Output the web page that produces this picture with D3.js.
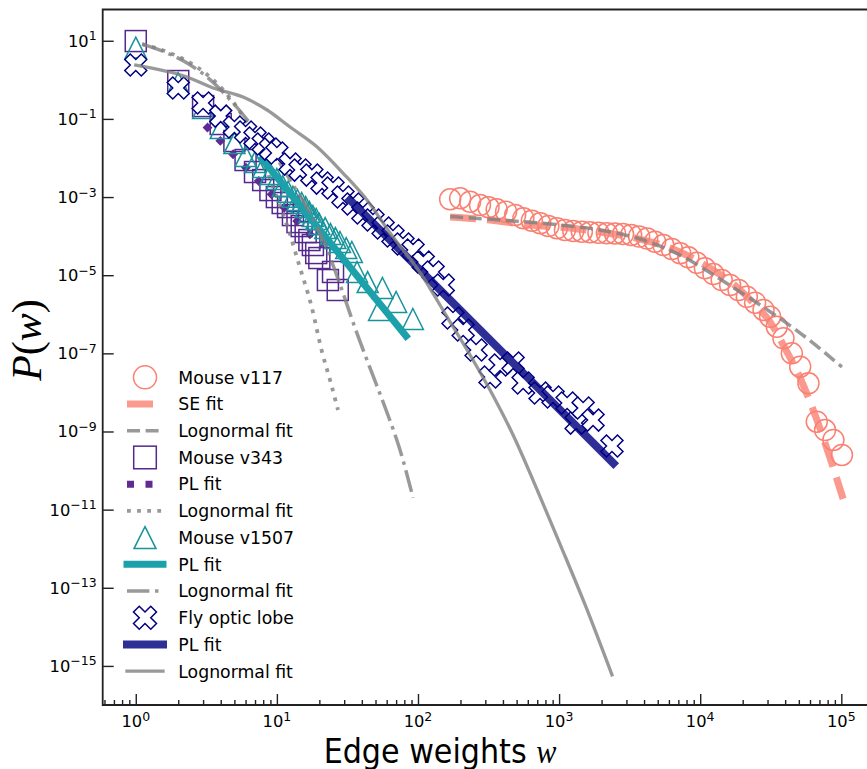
<!DOCTYPE html>
<html>
<head>
<meta charset="utf-8">
<script src="https://cdn.jsdelivr.net/npm/d3@7"></script>
<style>
  body { margin: 0; background: #fff; }
  text { font-family: "DejaVu Sans", sans-serif; fill: #000; }
</style>
</head>
<body>
<svg id="chart" width="867" height="769"></svg>
<script>
// ---- data ----
// Mouse v117 (circles) and its fits
const v117W = [169, 199, 234, 275, 316, 361, 421, 488, 558, 641, 735, 839, 964, 1100, 1260, 1450, 1660, 1900, 2180, 2490,
  2840, 3240, 3690, 4210, 4790, 5480, 6300, 7210, 8240, 9460, 10800, 12400, 14200, 16300, 18700, 21400, 24500, 28100, 31300, 34900,
  38900, 44600, 51100, 58500, 67000, 76700, 87900, 101000]
const v117P = [8.75e-4, 9.27e-4, 7.59e-4, 6.25e-4, 5.46e-4, 4.85e-4, 4.21e-4, 3.47e-4, 2.85e-4, 2.48e-4,
  2.13e-4, 1.81e-4, 1.58e-4, 1.43e-4, 1.35e-4, 1.30e-4, 1.25e-4, 1.22e-4, 1.18e-4, 1.17e-4,
  1.13e-4, 1.07e-4, 9.77e-5, 8.69e-5, 7.19e-5, 5.92e-5, 4.68e-5, 3.63e-5, 2.87e-5, 2.08e-5,
  1.50e-5, 1.07e-5, 7.53e-6, 5.61e-6, 4.18e-6, 2.81e-6, 1.98e-6, 1.29e-6, 8.67e-7, 4.81e-7,
  2.43e-7, 1.00e-7, 4.55e-8, 1.71e-8, 1.78e-9, 1.09e-9, 6.07e-10, 2.51e-10]
const seFitW = [169, 324, 623, 1200, 1950, 3750, 7190, 11700, 19200, 24500, 31300, 39800, 51100, 65200, 83200, 103000]
const seFitP = [3.08e-4, 2.58e-4, 1.92e-4, 1.61e-4, 1.27e-4, 8.43e-5, 3.92e-5, 1.52e-5, 4.18e-6, 1.73e-6,
  6.34e-7, 1.37e-7, 2.34e-8, 2.64e-9, 2.10e-10, 1.88e-11]
const ln117W = [169, 382, 863, 1950, 3750, 7190, 13800, 26600, 51100, 101000]
const ln117P = [3.17e-4, 2.58e-4, 2.04e-4, 1.43e-4, 8.43e-5, 3.28e-5, 7.98e-6, 1.73e-6, 3.31e-7, 4.47e-8]

// Mouse v343 (squares) and its fits
const v343W = [1, 2, 3, 4, 5, 6, 7, 8, 9, 10, 11, 12, 13, 14, 15, 16, 17, 18, 19, 20, 23, 25, 27]
const v343P = [9.82, 0.931, 0.213, 0.0740, 0.0272, 8.86e-3, 4.37e-3, 2.72e-3, 1.51e-3, 1.00e-3,
  7.03e-4, 5.55e-4, 3.46e-4, 2.29e-4, 1.81e-4, 1.27e-4, 7.94e-5, 5.92e-5, 3.69e-5, 2.75e-5,
  7.52e-6, 1.21e-5, 4.18e-6]
const pl343W = [3.1, 20.9]
const pl343P = [0.0697, 5.26e-5]
const ln343W = [1.11, 1.61, 2.24, 3.10, 4.30, 5.49, 6.78, 8.24, 9.70, 11.8, 14.6, 17.5, 20.9, 23.8, 27.1]
const ln343P = [8.24, 5.44, 3.21, 1.49, 0.487, 0.150, 0.0386, 6.59e-3, 1.34e-3, 1.92e-4, 1.53e-5, 1.73e-6, 1.08e-7, 2.08e-8, 3.55e-9]

// Mouse v1507 (triangles) and its fits
const v1507W = [1, 2, 3, 4, 5, 6, 7, 8, 9, 10, 11, 12, 13, 14, 15, 16, 17, 18, 19, 20,
  22, 24, 26, 28, 31, 34, 37, 44, 53, 56, 70, 92]
const v1507P = [6.70, 0.828, 0.190, 0.0583, 0.0241, 0.0112, 7.87e-3, 5.86e-3, 3.88e-3, 2.89e-3,
  1.91e-3, 1.37e-3, 1.02e-3, 8.39e-4, 7.03e-4, 5.55e-4, 4.14e-4, 3.27e-4, 2.74e-4, 2.04e-4,
  1.61e-4, 1.13e-4, 8.93e-5, 7.06e-5, 4.95e-5, 3.92e-5, 1.21e-5, 6.68e-6, 1.29e-6, 4.70e-6,
  2.06e-6, 7.55e-7]
const pl1507W = [7.85, 82.3]
const pl1507P = [9.4e-3, 2.78e-7]
const ln1507W = [1.11, 1.61, 2.31, 3.20, 4.89, 6.78, 9.40, 12.8, 17.2, 22.0, 28.1, 35.8, 45.7, 59.4, 74.6, 92.3]
const ln1507P = [8.24, 5.14, 2.69, 1.18, 0.255, 0.0619, 0.0134, 2.28e-3, 3.90e-4, 5.92e-5, 5.61e-6, 4.46e-7,
  4.22e-8, 3.55e-9, 3.36e-10, 2.0e-11]

// Fly optic lobe (crosses) and its fits
const flyW = [1, 2, 3, 4, 5, 6, 7, 8, 9, 10, 12.4, 14.6, 17.7, 20.9, 25.0, 29.4, 34.6, 40.7, 48.0, 56.6,
  66.5, 78.3, 92.3, 109, 128, 151, 177, 209, 258, 324, 382, 472, 556, 733, 906, 1140, 1320, 1480, 1740, 2370]
const flyP = [2.39, 0.617, 0.255, 0.118, 0.0619, 0.0461, 0.0324, 0.0228, 0.0169, 0.0134,
  6.98e-3, 4.90e-3, 3.65e-3, 2.28e-3, 1.70e-3, 1.00e-3, 6.62e-4, 3.90e-4, 2.58e-4, 1.61e-4,
  1.01e-4, 6.28e-5, 4.41e-5, 2.17e-5, 1.21e-5, 5.61e-6, 8.02e-7, 3.95e-7, 1.22e-7, 2.48e-8,
  5.02e-8, 5.65e-8, 1.74e-8, 9.64e-9, 7.62e-9, 5.35e-9, 1.64e-9, 3.98e-9, 1.96e-9, 4.24e-10]
const plFlyW = [33, 2427]
const plFlyP = [8.4e-4, 1.54e-10]
const lnFlyW = [1, 2.31, 3.53, 5.76, 8.53, 12.4, 19.3, 29.4, 43.5, 63.4, 104, 161, 223, 324, 472, 710, 1020, 1530, 2370]
const lnFlyP = [2.39, 1.18, 0.617, 0.362, 0.169, 0.0619, 0.0191, 4.11e-3, 8.38e-4, 1.20e-4, 1.14e-5, 8.49e-7,
  1.22e-7, 1.15e-8, 8.11e-10, 2.82e-11, 1.26e-12, 3.63e-14, 5.89e-16]

// axis ticks
const xMajor = [1, 10, 100, 1000, 10000, 100000]
const yMajor = [1e1, 1e-1, 1e-3, 1e-5, 1e-7, 1e-9, 1e-11, 1e-13, 1e-15]

const legendLabels = ['Mouse v117', 'SE fit', 'Lognormal fit', 'Mouse v343', 'PL fit', 'Lognormal fit',
  'Mouse v1507', 'PL fit', 'Lognormal fit', 'Fly optic lobe', 'PL fit', 'Lognormal fit']

// ---- colours and styles ----
const salmon = '#fa8072'
const purple = '#55288e'
const purpleFit = '#5f2b93'
const teal = '#17939b'
const tealFit = '#1ca1ab'
const navy = '#000080'
const grey = '#808080'

const pairs = (ws, ps) => ws.map((w, i) => ({w, p: ps[i]}))

const svg = d3.select('#chart')
const plot = {left: 102.7, right: 880, top: 9.5, bottom: 705}

const x = d3.scaleLog().domain([0.583, 1.88e5]).range([plot.left, plot.right])
const y = d3.scaleLog().domain([1e-16, 63.1]).range([plot.bottom, plot.top])

svg.append('defs').append('clipPath').attr('id', 'clip')
  .append('rect')
  .attr('x', plot.left).attr('y', plot.top)
  .attr('width', plot.right - plot.left).attr('height', plot.bottom - plot.top)

const g = svg.append('g').attr('clip-path', 'url(#clip)')

// marker shapes (matplotlib-like)
const trianglePath = r => `M0,${-r}L${r},${r}L${-r},${r}Z`
const xPts = [[-1, -2], [0, -1], [1, -2], [2, -1], [1, 0], [2, 1], [1, 2], [0, 1], [-1, 2], [-2, 1], [-1, 0], [-2, -1]]
const xPath = s => 'M' + xPts.map(p => `${p[0] * s / 4},${p[1] * s / 4}`).join('L') + 'Z'

const smooth = d3.line().x(d => x(d.w)).y(d => y(d.p)).curve(d3.curveMonotoneX)
const straight = d3.line().x(d => x(d.w)).y(d => y(d.p))

function drawLine(data, gen, style) {
  g.append('path')
    .datum(data)
    .attr('d', gen)
    .attr('fill', 'none')
    .attr('stroke', style.color)
    .attr('stroke-opacity', style.opacity || 1)
    .attr('stroke-width', style.width)
    .attr('stroke-dasharray', style.dash || null)
    .attr('stroke-linecap', style.dash ? 'butt' : 'square')
    .attr('stroke-linejoin', 'round')
}

const styles = {
  se: {color: salmon, opacity: 0.8, width: 7, dash: '26,11'},
  ln117: {color: grey, opacity: 0.8, width: 3.5, dash: '13,5.6'},
  pl343: {color: purpleFit, width: 7, dash: '7,11.5'},
  ln343: {color: grey, opacity: 0.8, width: 3.8, dash: '3.8,6.3'},
  pl1507: {color: tealFit, width: 7},
  ln1507: {color: grey, opacity: 0.8, width: 3.5, dash: '22.4,5.6,3.5,5.6'},
  plFly: {color: navy, opacity: 0.82, width: 8},
  lnFly: {color: grey, opacity: 0.8, width: 3.3}
}

// Mouse v117
g.append('g').selectAll('circle')
  .data(pairs(v117W, v117P))
  .join('circle')
  .attr('cx', d => x(d.w)).attr('cy', d => y(d.p)).attr('r', 10.5)
  .attr('fill', 'none').attr('stroke', salmon).attr('stroke-width', 1.5)
drawLine(pairs(seFitW, seFitP), smooth, styles.se)
drawLine(pairs(ln117W, ln117P), smooth, styles.ln117)

// Mouse v343
g.append('g').selectAll('rect')
  .data(pairs(v343W, v343P))
  .join('rect')
  .attr('x', d => x(d.w) - 10.5).attr('y', d => y(d.p) - 10.5)
  .attr('width', 21).attr('height', 21)
  .attr('fill', 'none').attr('stroke', purple).attr('stroke-width', 1.5)
drawLine(pairs(pl343W, pl343P), straight, styles.pl343)
drawLine(pairs(ln343W, ln343P), smooth, styles.ln343)

// Mouse v1507
g.append('g').selectAll('path')
  .data(pairs(v1507W, v1507P))
  .join('path')
  .attr('transform', d => `translate(${x(d.w)},${y(d.p)})`)
  .attr('d', trianglePath(10.5))
  .attr('fill', 'none').attr('stroke', teal).attr('stroke-width', 1.5)
drawLine(pairs(pl1507W, pl1507P), straight, styles.pl1507)
drawLine(pairs(ln1507W, ln1507P), smooth, styles.ln1507)

// Fly optic lobe
g.append('g').selectAll('path')
  .data(pairs(flyW, flyP))
  .join('path')
  .attr('transform', d => `translate(${x(d.w)},${y(d.p)})`)
  .attr('d', xPath(22))
  .attr('fill', '#fff').attr('stroke', navy).attr('stroke-width', 1.5)
  .attr('stroke-linejoin', 'miter')
drawLine(pairs(plFlyW, plFlyP), straight, styles.plFly)
drawLine(pairs(lnFlyW, lnFlyP), smooth, styles.lnFly)

// ---- axes (ticks point inward) ----
const xMinor = []
for (let e = -1; e <= 5; e++) {
  for (let k = 2; k <= 9; k++) {
    const v = k * Math.pow(10, e)
    if (v > x.domain()[0] && v < 8.7e5) xMinor.push(v)
  }
}

const axisStyle = sel => {
  sel.select('.domain').remove()
  sel.selectAll('line').attr('stroke', '#222').attr('stroke-width', 1.4)
}

svg.append('g')
  .attr('transform', `translate(0,${plot.bottom})`)
  .call(d3.axisBottom(x).tickValues(xMinor).tickSize(-5).tickFormat(''))
  .call(axisStyle)

svg.append('g')
  .attr('transform', `translate(0,${plot.bottom})`)
  .call(d3.axisBottom(x).tickValues(xMajor).tickSize(-11).tickFormat(''))
  .call(axisStyle)

svg.append('g')
  .attr('transform', `translate(${plot.left},0)`)
  .call(d3.axisLeft(y).tickValues(yMajor).tickSize(-11).tickFormat(''))
  .call(axisStyle)

// spines: left, bottom, top (the right side of the box is cut off)
svg.append('path')
  .attr('d', `M${plot.right},${plot.top}H${plot.left}V${plot.bottom}H${plot.right}`)
  .attr('fill', 'none').attr('stroke', '#222').attr('stroke-width', 1.8)

const expOf = v => Math.round(Math.log10(v))
const supText = e => (e < 0 ? '\u2212' + (-e) : String(e))

// x tick labels
const xLabels = svg.append('g').selectAll('text')
  .data(xMajor)
  .join('text')
  .attr('x', d => x(d))
  .attr('y', plot.bottom + 22)
  .attr('text-anchor', 'middle')
  .style('font-size', '16.3px')
xLabels.append('tspan').text('10')
xLabels.append('tspan').attr('dy', -6.5).style('font-size', '12.5px').text(d => supText(expOf(d)))

// y tick labels
const yLabels = svg.append('g').selectAll('text')
  .data(yMajor)
  .join('text')
  .attr('x', plot.left - 6)
  .attr('y', d => y(d) + 6)
  .attr('text-anchor', 'end')
  .style('font-size', '16.3px')
yLabels.append('tspan').text('10')
yLabels.append('tspan').attr('dy', -6.5).style('font-size', '12.5px').text(d => supText(expOf(d)))

// axis titles
const xTitle = svg.append('text')
  .attr('transform', `translate(440, 763) scale(0.915, 1)`)
  .attr('text-anchor', 'middle')
  .style('font-size', '33px')
xTitle.append('tspan').text('Edge weights ')
xTitle.append('tspan')
  .style('font-family', '"Liberation Serif", serif')
  .style('font-style', 'italic')
  .text('w')

const yTitle = svg.append('text')
  .attr('transform', 'translate(41, 340) rotate(-90)')
  .attr('text-anchor', 'middle')
  .style('font-family', '"Liberation Serif", serif')
  .style('font-size', '42px')
yTitle.append('tspan').style('font-style', 'italic').text('P')
yTitle.append('tspan').text('(')
yTitle.append('tspan').style('font-style', 'italic').text('w')
yTitle.append('tspan').text(')')

// ---- legend ----
const legendHandles = [
  {kind: 'circle', color: salmon},
  {kind: 'line', style: styles.se},
  {kind: 'line', style: styles.ln117},
  {kind: 'square', color: purple},
  {kind: 'line', style: styles.pl343},
  {kind: 'line', style: styles.ln343},
  {kind: 'triangle', color: teal},
  {kind: 'line', style: styles.pl1507},
  {kind: 'line', style: styles.ln1507},
  {kind: 'cross', color: navy},
  {kind: 'line', style: styles.plFly},
  {kind: 'line', style: styles.lnFly}
]

const legend = svg.append('g').attr('class', 'legend')
const legendItems = legend.selectAll('g')
  .data(legendLabels.map((label, i) => ({label, handle: legendHandles[i]})))
  .join('g')
  .attr('transform', (d, i) => `translate(0, ${377.3 + i * 26.72})`)

legendItems.append('text')
  .attr('x', 178.3)
  .attr('y', 6.3)
  .style('font-size', '17.3px')
  .text(d => d.label)

legendItems.each(function (d) {
  const item = d3.select(this)
  const h = d.handle
  if (h.kind === 'circle') {
    item.append('circle').attr('cx', 145).attr('cy', 0).attr('r', 11.5)
      .attr('fill', 'none').attr('stroke', h.color).attr('stroke-width', 1.5)
  } else if (h.kind === 'square') {
    item.append('rect').attr('x', 145 - 11.3).attr('y', -11.3).attr('width', 22.6).attr('height', 22.6)
      .attr('fill', 'none').attr('stroke', h.color).attr('stroke-width', 1.5)
  } else if (h.kind === 'triangle') {
    item.append('path').attr('transform', 'translate(145,0)').attr('d', trianglePath(11))
      .attr('fill', 'none').attr('stroke', h.color).attr('stroke-width', 1.5)
  } else if (h.kind === 'cross') {
    item.append('path').attr('transform', 'translate(145,0)').attr('d', xPath(23))
      .attr('fill', '#fff').attr('stroke', h.color).attr('stroke-width', 1.5)
  } else {
    const s = h.style
    item.append('line')
      .attr('x1', 127).attr('x2', 163).attr('y1', 0).attr('y2', 0)
      .attr('stroke', s.color)
      .attr('stroke-opacity', s.opacity || 1)
      .attr('stroke-width', s.width)
      .attr('stroke-dasharray', s.dash || null)
      .attr('stroke-linecap', s.dash ? 'butt' : 'square')
  }
})
</script>
</body>
</html>
